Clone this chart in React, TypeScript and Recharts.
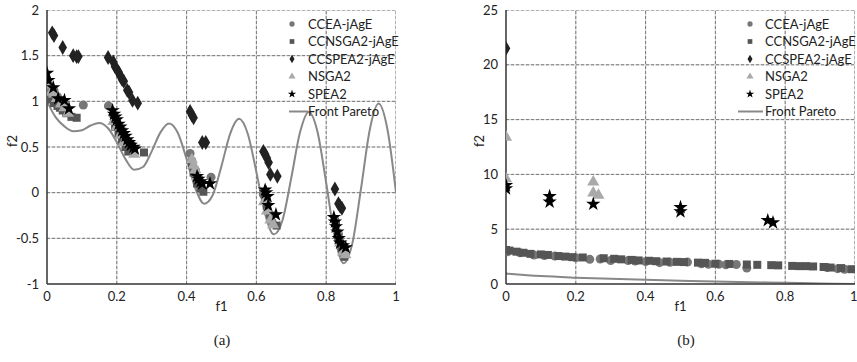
import React from "react";
import {
  ComposedChart,
  Scatter,
  Line,
  XAxis,
  YAxis,
  Symbols,
} from "recharts";

type Pt = { f1: number; f2: number };
const pts = (arr: number[][]): Pt[] => arr.map(([f1, f2]) => ({ f1, f2 }));

// ---- plot (a) ----
const frontA = pts([
  [0, 1], [0.025, 0.824], [0.05, 0.726], [0.075, 0.673], [0.1, 0.684],
  [0.125, 0.735], [0.15, 0.763], [0.175, 0.705], [0.2, 0.553], [0.225, 0.367],
  [0.25, 0.25], [0.275, 0.281], [0.3, 0.452], [0.325, 0.66], [0.35, 0.758],
  [0.375, 0.653], [0.4, 0.368], [0.425, 0.048], [0.45, -0.121], [0.475, -0.025],
  [0.5, 0.293], [0.525, 0.647], [0.55, 0.808], [0.575, 0.648], [0.6, 0.225],
  [0.625, -0.233], [0.65, -0.456], [0.675, -0.299], [0.7, 0.163], [0.725, 0.661],
  [0.75, 0.884], [0.775, 0.668], [0.8, 0.106], [0.825, -0.492], [0.85, -0.772],
  [0.875, -0.554], [0.9, 0.051], [0.925, 0.692], [0.95, 0.975], [0.975, 0.702],
  [1, 0],
]);

const cceaA = pts([
  [0.003, 1.2], [0.01, 1.15], [0.015, 1.1], [0.02, 1.12], [0.03, 1.05], [0.035, 1.0],
  [0.104, 0.96], [0.176, 0.95], [0.19, 0.85], [0.2, 0.78], [0.215, 0.68], [0.22, 0.62],
  [0.235, 0.55], [0.41, 0.43], [0.415, 0.35], [0.425, 0.25], [0.435, 0.15], [0.47, 0.17],
  [0.62, -0.02], [0.63, -0.12], [0.64, -0.25], [0.645, -0.32], [0.825, -0.3],
  [0.835, -0.45], [0.845, -0.6], [0.852, -0.7],
]);

const ccnsgaA = pts([
  [0.004, 1.05], [0.01, 1.02], [0.02, 0.98], [0.03, 0.95], [0.037, 0.93], [0.045, 0.9],
  [0.055, 0.87], [0.07, 0.83], [0.085, 0.82], [0.195, 0.72], [0.205, 0.65], [0.215, 0.58],
  [0.225, 0.5], [0.233, 0.45], [0.278, 0.44], [0.415, 0.3], [0.42, 0.22], [0.43, 0.1],
  [0.44, 0.05], [0.448, 0.01], [0.625, -0.05], [0.63, -0.15], [0.64, -0.25], [0.658, -0.36],
  [0.828, -0.35], [0.835, -0.5], [0.845, -0.62], [0.852, -0.7],
]);

const ccspeaA = pts([
  [0.015, 1.75], [0.02, 1.72], [0.045, 1.59], [0.075, 1.5], [0.085, 1.49], [0.09, 1.49],
  [0.175, 1.48], [0.19, 1.43], [0.195, 1.38], [0.2, 1.35], [0.205, 1.32], [0.21, 1.28],
  [0.215, 1.24], [0.22, 1.22], [0.23, 1.12], [0.235, 1.1], [0.245, 1.01], [0.26, 0.98],
  [0.41, 0.89], [0.415, 0.85], [0.42, 0.82], [0.445, 0.55], [0.455, 0.55],
  [0.62, 0.45], [0.625, 0.42], [0.63, 0.38], [0.635, 0.33], [0.64, 0.2], [0.66, 0.18],
  [0.825, 0.04], [0.835, -0.12], [0.84, -0.15], [0.845, -0.17],
]);

const nsgaA = pts([
  [0.002, 1.22], [0.006, 1.18], [0.012, 1.1], [0.02, 1.08], [0.028, 1.03], [0.04, 0.97],
  [0.05, 0.93], [0.06, 0.87], [0.19, 0.78], [0.2, 0.72], [0.21, 0.63], [0.22, 0.55],
  [0.25, 0.42], [0.415, 0.36], [0.42, 0.3], [0.425, 0.25], [0.43, 0.18], [0.622, -0.1],
  [0.63, -0.2], [0.64, -0.3], [0.648, -0.35], [0.83, -0.4], [0.84, -0.55], [0.848, -0.65],
  [0.855, -0.68],
]);

const speaA = pts([
  [0, 1.31], [0.004, 1.23], [0.018, 1.15], [0.032, 1.03], [0.05, 1.01], [0.063, 0.92],
  [0.188, 0.9], [0.192, 0.86], [0.196, 0.83], [0.2, 0.8], [0.205, 0.75], [0.21, 0.72],
  [0.215, 0.68], [0.22, 0.65], [0.225, 0.62], [0.23, 0.58], [0.235, 0.55], [0.24, 0.52],
  [0.248, 0.5], [0.252, 0.48], [0.43, 0.18], [0.434, 0.15], [0.44, 0.12], [0.445, 0.1],
  [0.467, 0.1], [0.625, 0.03], [0.628, 0.0], [0.632, -0.04], [0.634, -0.14], [0.656, -0.24],
  [0.822, -0.27], [0.825, -0.32], [0.828, -0.37], [0.832, -0.43], [0.836, -0.5],
  [0.84, -0.55], [0.848, -0.58], [0.856, -0.6],
]);

// ---- plot (b) ----
const frontB = pts([
  [0, 0.95], [0.1, 0.72], [0.2, 0.58], [0.3, 0.47], [0.4, 0.38], [0.5, 0.3],
  [0.6, 0.23], [0.7, 0.17], [0.8, 0.11], [0.9, 0.05], [1, 0],
]);

const cceaB = pts([
  [0.005, 2.95], [0.04, 2.85], [0.08, 2.65], [0.11, 2.6], [0.14, 2.55], [0.2, 2.4],
  [0.24, 2.25], [0.27, 2.28], [0.3, 2.15], [0.35, 2.15], [0.37, 2.1], [0.4, 2.05],
  [0.44, 1.95], [0.47, 1.98], [0.52, 2.0], [0.56, 1.85], [0.58, 1.8], [0.61, 1.8],
  [0.63, 1.75], [0.66, 1.78], [0.69, 1.45], [0.92, 1.5], [0.95, 1.4], [0.97, 1.35],
]);

const ccnsgaB = pts([
  [0, 3.1], [0.01, 3.05], [0.03, 2.95], [0.05, 2.85], [0.07, 2.75], [0.1, 2.7],
  [0.12, 2.65], [0.15, 2.55], [0.17, 2.5], [0.19, 2.45], [0.22, 2.42], [0.28, 2.35],
  [0.31, 2.3], [0.33, 2.25], [0.36, 2.2], [0.38, 2.15], [0.41, 2.12], [0.43, 2.08],
  [0.46, 2.05], [0.49, 2.02], [0.51, 2.0], [0.55, 1.95], [0.57, 1.93], [0.6, 1.85],
  [0.64, 1.83], [0.69, 1.78], [0.72, 1.75], [0.76, 1.72], [0.78, 1.7], [0.82, 1.65],
  [0.84, 1.63], [0.86, 1.63], [0.88, 1.6], [0.91, 1.55], [0.93, 1.5], [0.96, 1.45],
  [0.99, 1.35],
]);

const ccspeaB = pts([[0, 21.5]]);

const nsgaB = pts([
  [0, 13.4], [0, 9.6], [0.25, 9.3], [0.25, 8.3], [0.265, 8.1],
]);

const speaB = pts([
  [0, 9.0], [0, 8.7], [0.125, 8.0], [0.125, 7.5], [0.25, 7.3], [0.5, 7.0],
  [0.5, 6.6], [0.75, 5.8], [0.765, 5.6],
]);

const xTicks = [0, 0.2, 0.4, 0.6, 0.8, 1];
const yTicksA = [-1, -0.5, 0, 0.5, 1, 1.5, 2];
const yTicksB = [0, 5, 10, 15, 20, 25];

const seriesNames = ["CCEA-jAgE", "CCNSGA2-jAgE", "CCSPEA2-jAgE", "NSGA2", "SPEA2", "Front Pareto"];

const FONT = "Lato, 'Open Sans', sans-serif";
const tickStyle = { fontSize: 13, fill: "#222", fontFamily: FONT };
const labelStyle = { fontSize: 13, fill: "#222", fontFamily: FONT };

const style = [
  { shape: "circle", fill: "#777" },
  { shape: "square", fill: "#555" },
  { shape: "diamond", fill: "#222" },
  { shape: "triangle", fill: "#aaa" },
  { shape: "star", fill: "#000" },
];

const LegendBox = ({ left, top, lineFrom, lineTo, markX, textX }: any) => (
  <svg
    width={140}
    height={110}
    style={{ position: "absolute", left, top, overflow: "visible", pointerEvents: "none" }}
  >
    {seriesNames.map((name, i) => {
      const cy = 10 + i * 17.5;
      return (
        <g key={name}>
          {i < 5 ? (
            <Symbols type={style[i].shape as any} size={22} cx={markX} cy={cy} fill={style[i].fill} />
          ) : (
            <line x1={lineFrom} x2={lineTo} y1={cy} y2={cy} stroke="#888" strokeWidth={2} />
          )}
          <text x={textX} y={cy + 4.5} fontSize={13} fontFamily={FONT} fill="#222">
            {name}
          </text>
        </g>
      );
    })}
  </svg>
);

// grid drawn as two-point lines through the chart's own scales
const gridLines = (yTicks: number[], lo: number, hi: number) => [
  ...xTicks.slice(1).map((t) => ({ key: `v${t}`, data: [{ f1: t, f2: lo }, { f1: t, f2: hi }] })),
  ...yTicks.slice(1).map((t) => ({ key: `h${t}`, data: [{ f1: 0, f2: t }, { f1: 1, f2: t }] })),
];

const Panel = ({
  width, right, yWidth, domain, yTicks, front, cc, ccn, ccs, nsga, spea, labelOffset,
}: any) => {
  const grid = gridLines(yTicks, domain[0], domain[1]);
  return (
    <ComposedChart width={width} height={316} margin={{ top: 10, right, bottom: 0, left: 0 }}>
      <XAxis
        type="number"
        dataKey="f1"
        domain={[0, 1]}
        ticks={xTicks}
        tick={tickStyle}
        tickLine={false}
        axisLine={{ stroke: "#333", strokeWidth: 1.5 }}
        height={32}
        allowDataOverflow
        label={{ value: "f1", position: "insideBottom", offset: 5, style: labelStyle }}
      />
      <YAxis
        type="number"
        dataKey="f2"
        domain={domain}
        ticks={yTicks}
        tick={tickStyle}
        tickLine={false}
        axisLine={{ stroke: "#333", strokeWidth: 1.5 }}
        width={yWidth}
        allowDataOverflow
        label={{ value: "f2", angle: -90, position: "insideLeft", offset: labelOffset, style: labelStyle }}
      />
      {grid.map((g) => (
        <Line
          key={`s${g.key}`}
          data={g.data}
          dataKey="f2"
          type="linear"
          stroke="#cfcfcf"
          strokeWidth={1}
          dot={false}
          activeDot={false}
          isAnimationActive={false}
        />
      ))}
      {grid.map((g) => (
        <Line
          key={`d${g.key}`}
          data={g.data}
          dataKey="f2"
          type="linear"
          stroke="#7a7a7a"
          strokeWidth={1}
          strokeDasharray="3,2"
          dot={false}
          activeDot={false}
          isAnimationActive={false}
        />
      ))}
      <Line
        data={front}
        dataKey="f2"
        type="monotone"
        stroke="#888"
        strokeWidth={2}
        dot={false}
        activeDot={false}
        isAnimationActive={false}
      />
      <Scatter data={cc} dataKey="f2" shape="circle" fill={style[0].fill} isAnimationActive={false} />
      <Scatter data={ccn} dataKey="f2" shape="square" fill={style[1].fill} isAnimationActive={false} />
      <Scatter data={nsga} dataKey="f2" shape="triangle" fill={style[3].fill} isAnimationActive={false} />
      <Scatter data={ccs} dataKey="f2" shape="diamond" fill={style[2].fill} isAnimationActive={false} />
      <Scatter data={spea} dataKey="f2" shape="star" fill={style[4].fill} isAnimationActive={false} />
    </ComposedChart>
  );
};

const captionStyle: React.CSSProperties = {
  position: "absolute",
  top: 332,
  width: 40,
  textAlign: "center",
  fontFamily: "'Liberation Serif', 'DejaVu Serif', serif",
  fontSize: 15,
  color: "#222",
};

export default function App() {
  return (
    <div style={{ position: "absolute", left: 0, top: 0, width: 857, height: 362, background: "#fff" }}>
      <div style={{ position: "absolute", left: 0, top: 0 }}>
        <Panel
          width={420}
          right={24}
          yWidth={47}
          domain={[-1, 2]}
          yTicks={yTicksA}
          front={frontA}
          cc={cceaA}
          ccn={ccnsgaA}
          ccs={ccspeaA}
          nsga={nsgaA}
          spea={speaA}
          labelOffset={12}
        />
      </div>
      <LegendBox left={284} top={14} markX={8} lineFrom={5} lineTo={24} textX={24} />
      <div style={{ position: "absolute", left: 440, top: 0 }}>
        <Panel
          width={417}
          right={2}
          yWidth={66}
          domain={[0, 25]}
          yTicks={yTicksB}
          front={frontB}
          cc={cceaB}
          ccn={ccnsgaB}
          ccs={ccspeaB}
          nsga={nsgaB}
          spea={speaB}
          labelOffset={39}
        />
      </div>
      <LegendBox left={736} top={14} markX={14} lineFrom={2} lineTo={27} textX={29} />
      <div style={{ ...captionStyle, left: 202 }}>(a)</div>
      <div style={{ ...captionStyle, left: 666 }}>(b)</div>
    </div>
  );
}
